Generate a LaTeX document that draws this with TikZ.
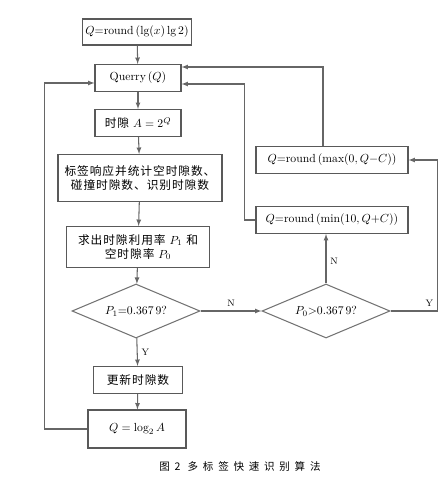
\documentclass[tikz,border=0pt]{standalone}
\usepackage{amsmath}
\usepackage{fontspec}
\usepackage{tikz}
\usetikzlibrary{shapes.geometric, arrows}
\newfontfamily\cjk[LetterSpace=8]{Noto Sans CJK SC}
\newfontfamily\cjkcap[LetterSpace=45]{Noto Sans CJK SC}
\tikzset{
  box/.style={draw=black!65, line width=0.9pt, inner sep=2pt, align=center, font=\normalsize},
  decide/.style={draw=black!55, line width=0.9pt, diamond, aspect=2.4, inner sep=0pt,
    minimum width=3.84cm, minimum height=1.62cm, font=\normalsize},
  line/.style={draw=black!60, line width=0.9pt, -latex},
  tag/.style={font=\footnotesize}
}
\begin{document}
\begin{tikzpicture}[x=0.03cm, y=-0.03cm]
\useasboundingbox (0,0) rectangle (447,489);
\node[box, minimum width=3.27cm, minimum height=0.78cm] (init) at (137,32) {$Q{=}\mathrm{round}\,(\lg(x)\lg 2)$};
\node[box, minimum width=2.58cm, minimum height=0.81cm] (qry) at (138,78) {Querry$\,(Q)$};
\node[box, minimum width=2.58cm, minimum height=0.81cm] (slot) at (138,123) {{\cjk 时隙} $A=2^{Q}$};
\node[box, minimum width=4.92cm, minimum height=1.41cm] (resp) at (140,178) {\cjk 标签响应并统计空时隙数、\\ \cjk 碰撞时隙数、识别时隙数};
\node[box, minimum width=4.29cm, minimum height=1.23cm] (util) at (138,247) {{\cjk 求出时隙利用率} $P_1$ {\cjk 和}\\ {\cjk 空时隙率} $P_0$};
\node[decide] (dec1) at (136,311) {$P_1{=}0.367\,9$?};
\node[decide] (dec2) at (326,311) {$P_0{>}0.367\,9$?};
\node[box, minimum width=4.56cm, minimum height=0.81cm] (minq) at (332,220) {$Q{=}\mathrm{round}\,(\min(10,Q{+}C))$};
\node[box, minimum width=4.56cm, minimum height=0.81cm] (maxq) at (332,160) {$Q{=}\mathrm{round}\,(\max(0,Q{-}C))$};
\node[box, minimum width=2.67cm, minimum height=0.81cm] (upd) at (138,380) {\cjk 更新时隙数};
\node[box, minimum width=2.94cm, minimum height=1.14cm] (logq) at (137,429) {$Q=\log_2 A$};
\node[font=\small\cjkcap] (cap) at (240,466) {图2 多标签快速识别算法};

% main chain
\draw[line] (init) -- (qry);
\draw[line] (qry) -- (slot);
\draw[line] (slot) -- (resp);
\draw[line] (resp) -- (util);
\draw[line] (util) -- (dec1);
\draw[line] (dec1) -- node[tag, right] {Y} (upd);
\draw[line] (upd) -- (logq);
\draw[line] (dec1) -- node[tag, above] {N} (dec2);
\draw[line] (dec2) -- node[tag, right, pos=0.45] {N} (minq.south -| dec2.north);

% loops back to Querry
\draw[line] (logq.west) -- ++(-1.29cm,0) |- ([yshift=-0.15cm]qry.west);
\draw[line] (dec2.east) -- ++(1.41cm,0) node[tag, above left] {Y} |- (maxq.east);
\draw[line] ([xshift=-0.27cm]maxq.north) |- ([yshift=0.33cm]qry.east);
\draw[line] (minq.west) -- ++(-0.33cm,0) |- ([yshift=-0.18cm]qry.east);
\end{tikzpicture}
\end{document}
